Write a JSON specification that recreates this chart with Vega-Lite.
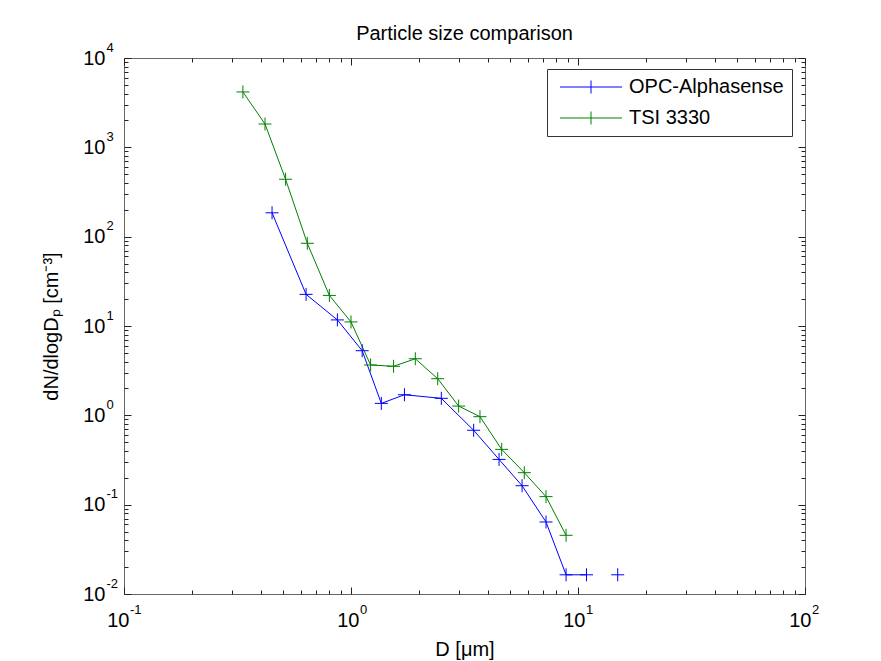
{
  "$schema": "https://vega.github.io/schema/vega-lite/v6.json",
  "autosize": {"type": "none"},
  "padding": {"left": 124, "top": 58, "right": 76, "bottom": 67},
  "width": 681,
  "height": 536,
  "background": "white",
  "title": {"text": "Particle size comparison", "fontSize": 20, "font": "Liberation Sans", "fontWeight": "normal", "color": "black", "anchor": "middle", "frame": "group", "baseline": "alphabetic", "offset": -19},
  "data": {"values": [
    {"series": "OPC-Alphasense", "D": 0.449, "N": 185},
    {"series": "OPC-Alphasense", "D": 0.634, "N": 22.6},
    {"series": "OPC-Alphasense", "D": 0.871, "N": 11.7},
    {"series": "OPC-Alphasense", "D": 1.12, "N": 5.29},
    {"series": "OPC-Alphasense", "D": 1.36, "N": 1.36},
    {"series": "OPC-Alphasense", "D": 1.72, "N": 1.70},
    {"series": "OPC-Alphasense", "D": 2.50, "N": 1.55},
    {"series": "OPC-Alphasense", "D": 3.47, "N": 0.68},
    {"series": "OPC-Alphasense", "D": 4.49, "N": 0.321},
    {"series": "OPC-Alphasense", "D": 5.67, "N": 0.163},
    {"series": "OPC-Alphasense", "D": 7.23, "N": 0.064},
    {"series": "OPC-Alphasense", "D": 8.86, "N": 0.0164},
    {"series": "OPC-Alphasense", "D": 10.9, "N": 0.0164},
    {"series": "OPC-Alphasense", "D": 12.9, "N": null},
    {"series": "OPC-Alphasense", "D": 14.96, "N": 0.0164},
    {"series": "TSI 3330", "D": 0.334, "N": 4170},
    {"series": "TSI 3330", "D": 0.418, "N": 1824},
    {"series": "TSI 3330", "D": 0.515, "N": 439},
    {"series": "TSI 3330", "D": 0.642, "N": 84.3},
    {"series": "TSI 3330", "D": 0.803, "N": 22.0},
    {"series": "TSI 3330", "D": 1.0, "N": 11.1},
    {"series": "TSI 3330", "D": 1.22, "N": 3.66},
    {"series": "TSI 3330", "D": 1.54, "N": 3.54},
    {"series": "TSI 3330", "D": 1.92, "N": 4.30},
    {"series": "TSI 3330", "D": 2.41, "N": 2.57},
    {"series": "TSI 3330", "D": 2.98, "N": 1.27},
    {"series": "TSI 3330", "D": 3.70, "N": 0.966},
    {"series": "TSI 3330", "D": 4.61, "N": 0.416},
    {"series": "TSI 3330", "D": 5.80, "N": 0.228},
    {"series": "TSI 3330", "D": 7.23, "N": 0.123},
    {"series": "TSI 3330", "D": 8.86, "N": 0.0454}
  ]},
  "layer": [
    {
      "mark": {"type": "line", "strokeWidth": 1, "invalid": "break-paths-filter-domains"},
      "encoding": {
        "x": {"field": "D", "type": "quantitative", "scale": {"type": "log", "domain": [0.1, 100], "nice": false},
          "axis": {"orient": "bottom", "values": [0.1,0.2,0.3,0.4,0.5,0.6,0.7,0.8,0.9,1,2,3,4,5,6,7,8,9,10,20,30,40,50,60,70,80,90,100], "labels": false, "title": null,
            "tickSize": {"condition": {"test": "indexof([0.1,1,10,100], datum.value) >= 0", "value": -7}, "value": -4}}},
        "y": {"field": "N", "type": "quantitative", "scale": {"type": "log", "domain": [0.01, 10000], "nice": false},
          "axis": {"orient": "left", "values": [0.01,0.02,0.03,0.04,0.05,0.06,0.07,0.08,0.09,0.1,0.2,0.3,0.4,0.5,0.6,0.7,0.8,0.9,1,2,3,4,5,6,7,8,9,10,20,30,40,50,60,70,80,90,100,200,300,400,500,600,700,800,900,1000,2000,3000,4000,5000,6000,7000,8000,9000,10000], "labels": false, "title": null,
            "tickSize": {"condition": {"test": "indexof([0.01,0.1,1,10,100,1000,10000], datum.value) >= 0", "value": -7}, "value": -4}}},
        "color": {"field": "series", "type": "nominal",
          "scale": {"domain": ["OPC-Alphasense", "TSI 3330"], "range": ["#0000ff", "#008000"]},
          "legend": {"orient": "none", "legendX": 423, "legendY": 11, "title": null, "padding": 8, "strokeColor": "#333333", "fillColor": "white",
            "symbolType": "M-5,0L57,0M26,-6.5L26,6.5", "symbolSize": 4, "symbolStrokeWidth": 1, "symbolFillColor": "transparent",
            "labelOffset": 54, "labelFontSize": 20, "labelFont": "Liberation Sans", "labelColor": "black", "rowPadding": 11}}
      }
    },
    {
      "mark": {"type": "point", "shape": "M-1,0L1,0M0,-1L0,1", "filled": false, "strokeWidth": 1, "size": 169, "opacity": 1},
      "encoding": {
        "x": {"field": "D", "type": "quantitative",
          "axis": {"orient": "bottom", "values": [0.1, 1, 10, 100], "ticks": false, "labelExpr": "'10'", "labelAlign": "right", "labelBaseline": "alphabetic", "labelPadding": 32, "labelFontSize": 20,
            "labelOffset": {"condition": [{"test": "datum.value == 0.1", "value": 5}, {"test": "datum.value == 1", "value": 8}, {"test": "datum.value == 10", "value": 7}], "value": 6},
            "title": "D [μm]", "titleFontSize": 20, "titleFontWeight": "normal", "titleBaseline": "alphabetic", "titleY": 61}},
        "y": {"field": "N", "type": "quantitative",
          "axis": {"orient": "left", "values": [0.01,0.1,1,10,100,1000,10000], "ticks": false, "labelExpr": "'10'", "labelAlign": "right", "labelBaseline": "middle", "labelPadding": 19, "labelFontSize": 20,
            "title": "dN/dlogDₚ [cm⁻³]", "titleFontSize": 20, "titleFontWeight": "normal", "titleBaseline": "alphabetic", "titleX": -67, "titleY": 268}},
        "color": {"field": "series", "type": "nominal"}
      }
    },
    {
      "mark": {"type": "point", "opacity": 0},
      "encoding": {
        "x": {"field": "D", "type": "quantitative",
          "axis": {"orient": "bottom", "values": [0.1, 1, 10, 100], "ticks": false, "labelExpr": "'' + round(log(datum.value) / LN10)", "labelAlign": "left", "labelBaseline": "alphabetic", "labelPadding": 19.5, "labelFontSize": 13,
            "labelOffset": {"condition": [{"test": "datum.value == 0.1", "value": 5.5}, {"test": "datum.value == 1", "value": 8.5}, {"test": "datum.value == 10", "value": 7.5}], "value": 6.5},
            "title": null}},
        "y": {"field": "N", "type": "quantitative",
          "axis": {"orient": "left", "values": [0.01,0.1,1,10,100,1000,10000], "ticks": false, "labelExpr": "'' + round(log(datum.value) / LN10)", "labelAlign": "left", "labelBaseline": "middle", "labelPadding": 18, "labelOffset": -11, "labelFontSize": 13, "title": null}}
      }
    },
    {
      "mark": {"type": "point", "opacity": 0},
      "encoding": {
        "x": {"field": "D", "type": "quantitative",
          "axis": {"orient": "top", "values": [0.1,0.2,0.3,0.4,0.5,0.6,0.7,0.8,0.9,1,2,3,4,5,6,7,8,9,10,20,30,40,50,60,70,80,90,100], "labels": false, "title": null,
            "tickSize": {"condition": {"test": "indexof([0.1,1,10,100], datum.value) >= 0", "value": -7}, "value": -4}}},
        "y": {"field": "N", "type": "quantitative",
          "axis": {"orient": "right", "values": [0.01,0.02,0.03,0.04,0.05,0.06,0.07,0.08,0.09,0.1,0.2,0.3,0.4,0.5,0.6,0.7,0.8,0.9,1,2,3,4,5,6,7,8,9,10,20,30,40,50,60,70,80,90,100,200,300,400,500,600,700,800,900,1000,2000,3000,4000,5000,6000,7000,8000,9000,10000], "labels": false, "title": null,
            "tickSize": {"condition": {"test": "indexof([0.01,0.1,1,10,100,1000,10000], datum.value) >= 0", "value": -7}, "value": -4}}}
      }
    }
  ],
  "resolve": {"axis": {"x": "independent", "y": "independent"}},
  "config": {
    "view": {"stroke": "#666666", "strokeWidth": 1},
    "axis": {"grid": false, "domain": false, "tickColor": "#222222", "tickWidth": 1, "labelFont": "Liberation Sans", "titleFont": "Liberation Sans", "labelColor": "black", "titleColor": "black", "labelFlush": false, "labelOverlap": false, "labelBound": false}
  }
}
